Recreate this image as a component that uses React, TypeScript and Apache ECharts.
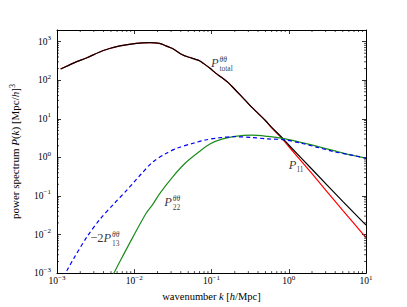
import React, { useEffect, useRef } from 'react';
import * as echarts from 'echarts';

// P_total^θθ (black)
const kTotal = [0.001114, 0.00166, 0.00244, 0.00398, 0.00652, 0.01062, 0.01585, 0.02113, 0.0257, 0.0313, 0.042, 0.0501, 0.0621, 0.0708, 0.0794, 0.0966, 0.112, 0.136, 0.166, 0.201, 0.27, 0.331, 0.401, 0.501, 0.593, 0.837, 1.0, 2.0, 5.0, 10];
const pTotal = [195, 282, 383, 589, 776, 904, 942, 904, 776, 661, 457, 398, 347, 316, 269, 200, 155, 117, 85.1, 57.5, 30.9, 20.0, 13.8, 8.91, 6.17, 3.09, 2.09, 0.491, 0.0723, 0.0175];
// P_11 (red)
const kP11 = [0.001114, 0.00166, 0.00244, 0.00398, 0.00652, 0.01062, 0.01585, 0.02113, 0.0257, 0.0313, 0.042, 0.0501, 0.0621, 0.0708, 0.0794, 0.0966, 0.112, 0.136, 0.166, 0.201, 0.27, 0.331, 0.401, 0.501, 0.593, 0.837, 1.0, 2.0, 5.0, 10];
const pP11 = [195, 282, 383, 589, 776, 904, 942, 904, 776, 661, 457, 398, 347, 316, 269, 200, 155, 117, 85.1, 57.5, 30.9, 20.0, 13.8, 8.91, 6.03, 2.95, 1.91, 0.377, 0.0421, 0.0083];
// P_22^θθ (green)
const kP22 = [0.00501, 0.00546, 0.00652, 0.00964, 0.01426, 0.01738, 0.02113, 0.0313, 0.0462, 0.0685, 0.0966, 0.136, 0.201, 0.33, 0.538, 0.837, 1.435, 2.344, 3.82, 6.24, 10];
const pP22 = [0.000708, 0.001, 0.002, 0.0087, 0.0355, 0.0603, 0.112, 0.309, 0.724, 1.38, 2.24, 2.96, 3.48, 3.75, 3.48, 3.09, 2.44, 1.93, 1.49, 1.16, 0.953];
// -2 P_13^θθ (blue dashed)
const kP13 = [0.0012, 0.001355, 0.00166, 0.00244, 0.00361, 0.00535, 0.00792, 0.00964, 0.0123, 0.01738, 0.0257, 0.0362, 0.0564, 0.0834, 0.136, 0.201, 0.33, 0.538, 0.837, 1.435, 2.344, 3.82, 6.24, 10];
const pP13 = [0.00079, 0.0012, 0.00245, 0.0087, 0.0251, 0.06, 0.138, 0.214, 0.37, 0.76, 1.26, 1.74, 2.29, 2.82, 3.27, 3.43, 3.27, 3.01, 2.88, 2.34, 1.82, 1.41, 1.16, 0.953];

// axes
const xMin = 0.001;
const xMax = 10;
const yMin = 0.001;
const yMax = 2000;
const xDecades = [0.001, 0.01, 0.1, 1];
const yDecades = [0.001, 0.01, 0.1, 1, 10, 100, 1000];
const minorMantissas = [2, 3, 4, 5, 6, 7, 8, 9];

// curve annotations (anchor = left edge / vertical centre of the main "P")
const labelK = [0.0986, 1.0, 0.0245, 0.0027];
const labelP = [282, 0.617, 0.071, 0.0083];
const labelPrefix = ['', '', '', '−2'];
const labelSup = ['θθ', '', 'θθ', 'θθ'];
const labelSub = ['total', '11', '22', '13'];

const serifName = "'Liberation Serif'";
const serif = "'Liberation Serif', 'Times New Roman', 'DejaVu Serif', serif";
const annSize = 12.5;
const scriptSize = 7.5;

const pairs = (ks: number[], ps: number[]) => ks.map((k, i) => [k, ps[i]]);

function powLabel(v: number): string {
  const l = Math.log10(v);
  const e = Math.round(l);
  if (Math.abs(l - e) > 1e-6) return '';
  const s = e < 0 ? '−' + String(-e) : String(e);
  return `{b|10}{s|${s}}`;
}

const tickRich = {
  b: { fontFamily: serif, fontSize: 9.5, lineHeight: 14, color: '#000' },
  s: { fontFamily: serif, fontSize: 7, lineHeight: 7, verticalAlign: 'top', color: '#000' },
};

function measure(text: string, font: string): number {
  const c = document.createElement('canvas').getContext('2d');
  if (!c) return text.length * 6;
  c.font = font;
  return c.measureText(text).width;
}

export default function App() {
  const ref = useRef<HTMLDivElement>(null);
  useEffect(() => {
    if (!ref.current) return;
    const chart = echarts.init(ref.current, null, { renderer: 'svg' });

    const minorData: number[][] = [];
    xDecades.forEach((d) => minorMantissas.forEach((m) => minorData.push([m * d, 1, 0])));
    yDecades.forEach((d) =>
      minorMantissas.forEach((m) => {
        const v = m * d;
        if (v < yMax) minorData.push([1, v, 1]);
      })
    );

    const annRich: any = {
      p: { fontFamily: serif, fontStyle: 'italic', fontSize: annSize, lineHeight: 4, color: '#000' },
      n: { fontFamily: serif, fontSize: annSize, lineHeight: 4, color: '#000' },
      p1: { fontFamily: serif, fontStyle: 'italic', fontSize: annSize, lineHeight: 16, color: '#000' },
      sup: { fontFamily: serif, fontStyle: 'italic', fontSize: scriptSize, lineHeight: 2, color: '#000' },
      sub: { fontFamily: serif, fontSize: scriptSize, lineHeight: 7, color: '#000' },
      sub1: { fontFamily: serif, fontSize: scriptSize, lineHeight: 8, verticalAlign: 'bottom', color: '#000' },
    };
    const annData: any[] = [];
    labelK.forEach((k, i) => {
      if (!labelSup[i]) {
        annData.push({
          value: [k, labelP[i]],
          label: { formatter: `{p1|P}{sub1|${labelSub[i]}}`, offset: [0, 0] },
        });
        return;
      }
      const w =
        measure(labelPrefix[i], `${annSize}px ${serifName}`) + measure('P', `italic ${annSize}px ${serifName}`) + 0.8;
      annRich['g2_' + i] = { width: w, fontSize: 2, lineHeight: 2 };
      annRich['g7_' + i] = { width: w, fontSize: 2, lineHeight: 7 };
      const line2 = labelPrefix[i] ? `{n|${labelPrefix[i]}}{p|P}` : '{p|P}';
      annData.push({
        value: [k, labelP[i]],
        label: {
          formatter: `{g2_${i}| }{sup|${labelSup[i]}}\n${line2}\n{g7_${i}| }{sub|${labelSub[i]}}`,
          offset: [0, 2.5],
        },
      });
    });

    const axisCommon = {
      type: 'log' as const,
      logBase: 10,
      splitLine: { show: false },
      axisLine: { show: true, onZero: false, lineStyle: { color: '#000', width: 1 } },
      axisTick: { show: true, inside: true, length: 4, lineStyle: { color: '#000', width: 0.8 } },
    };

    chart.setOption({
      animation: false,
      backgroundColor: '#fff',
      grid: { left: 53, right: 41, top: 30, bottom: 31, containLabel: false },
      xAxis: [
        {
          ...axisCommon,
          min: xMin,
          max: xMax,
          position: 'bottom',
          axisLabel: { formatter: powLabel, rich: tickRich, margin: 1 },
          name: '{t|wavenumber }{i|k}{t| [}{i|h}{t|/Mpc]}',
          nameLocation: 'middle',
          nameGap: 15,
          nameTextStyle: {
            rich: {
              t: { fontFamily: serif, fontSize: 10.5, color: '#000' },
              i: { fontFamily: serif, fontSize: 10.5, fontStyle: 'italic', color: '#000' },
            },
          },
        },
        { ...axisCommon, min: xMin, max: xMax, position: 'top', axisLabel: { show: false } },
      ],
      yAxis: [
        {
          ...axisCommon,
          min: yMin,
          max: yMax,
          position: 'left',
          axisLabel: { formatter: powLabel, rich: tickRich, margin: 6 },
          name: '{t|power spectrum }{i|P}{t|(}{i|k}{t|) [Mpc/}{i|h}{t|]}{s|3}',
          nameLocation: 'middle',
          nameGap: 35,
          nameTextStyle: {
            rich: {
              t: { fontFamily: serif, fontSize: 11, lineHeight: 14, color: '#000' },
              i: { fontFamily: serif, fontSize: 11, lineHeight: 14, fontStyle: 'italic', color: '#000' },
              s: { fontFamily: serif, fontSize: 8, lineHeight: 8, verticalAlign: 'top', color: '#000' },
            },
          },
        },
        { ...axisCommon, min: yMin, max: yMax, position: 'right', axisLabel: { show: false } },
      ],
      series: [
        {
          type: 'line',
          name: 'P11',
          data: pairs(kP11, pP11),
          symbol: 'none',
          smooth: 0.3,
          lineStyle: { color: '#ff0000', width: 1.2 },
          z: 2,
        },
        {
          type: 'line',
          name: 'Ptotal',
          data: pairs(kTotal, pTotal),
          symbol: 'none',
          smooth: 0.3,
          lineStyle: { color: '#000000', width: 1.2 },
          z: 3,
        },
        {
          type: 'line',
          name: 'P22',
          data: pairs(kP22, pP22),
          symbol: 'none',
          smooth: 0.3,
          lineStyle: { color: '#1a8c1a', width: 1.2 },
          z: 4,
        },
        {
          type: 'line',
          name: 'P13',
          data: pairs(kP13, pP13),
          symbol: 'none',
          smooth: 0.3,
          lineStyle: { color: '#0000ff', width: 1.2, type: [4, 3] },
          z: 5,
        },
        {
          type: 'scatter',
          name: 'labels',
          data: annData,
          symbolSize: 0,
          itemStyle: { color: 'rgba(0,0,0,0)' },
          label: {
            show: true,
            position: 'right',
            distance: 0,
            color: '#000',
            textBorderWidth: 0,
            align: 'left',
            rich: annRich,
          },
          silent: true,
          z: 6,
        },
        {
          type: 'custom',
          name: 'minorTicks',
          data: minorData,
          encode: { x: 0, y: 1 },
          silent: true,
          z: 7,
          renderItem: (params: any, api: any) => {
            const cs = params.coordSys;
            const kind = api.value(2);
            const st = { stroke: '#000', lineWidth: 0.7 };
            if (kind === 0) {
              const x = api.coord([api.value(0), 1])[0];
              return {
                type: 'group',
                children: [
                  { type: 'line', shape: { x1: x, y1: cs.y + cs.height, x2: x, y2: cs.y + cs.height - 2 }, style: st },
                  { type: 'line', shape: { x1: x, y1: cs.y, x2: x, y2: cs.y + 2 }, style: st },
                ],
              };
            }
            const y = api.coord([1, api.value(1)])[1];
            return {
              type: 'group',
              children: [
                { type: 'line', shape: { x1: cs.x, y1: y, x2: cs.x + 2, y2: y }, style: st },
                { type: 'line', shape: { x1: cs.x + cs.width, y1: y, x2: cs.x + cs.width - 2, y2: y }, style: st },
              ],
            };
          },
        },
      ],
    });
    return () => chart.dispose();
  }, []);
  return <div ref={ref} style={{ position: 'fixed', left: 0, top: 0, width: 407, height: 307, background: '#fff' }} />;
}
